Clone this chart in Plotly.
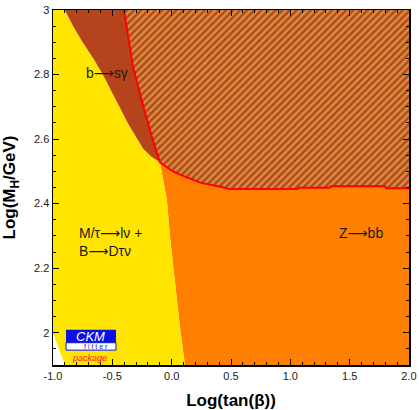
import plotly.graph_objects as go

# ---- data ----
X_RANGE = [-1.0, 2.0]
Y_RANGE = [1.9, 3.0]
X_TICKS = [-1.0, -0.5, 0.0, 0.5, 1.0, 1.5, 2.0]
X_TICK_TEXT = ["-1.0", "-0.5", "0.0", "0.5", "1.0", "1.5", "2.0"]
Y_TICKS = [2.0, 2.2, 2.4, 2.6, 2.8, 3.0]
Y_TICK_TEXT = ["2", "2.2", "2.4", "2.6", "2.8", "3"]

# yellow / orange boundary (bottom -> junction)
yo_x = [0.112, 0.075, 0.045, 0.015, -0.015, -0.04, -0.07, -0.099]
yo_y = [1.90, 2.00, 2.10, 2.20, 2.30, 2.41, 2.47, 2.528]

# yellow / brown boundary (junction -> top)
yb_x = [-0.099, -0.17, -0.24, -0.29, -0.37, -0.44, -0.51, -0.58, -0.66, -0.75, -0.83, -0.90]
yb_y = [2.528, 2.545, 2.57, 2.60, 2.65, 2.70, 2.75, 2.80, 2.85, 2.90, 2.95, 3.00]

# red b->s gamma limit (top -> junction -> right edge)
red_x = [-0.402, -0.326, -0.253, -0.17, -0.099, 0.0, 0.07, 0.24, 0.41, 0.49, 1.06, 1.07, 1.33, 1.34, 1.80, 1.81, 2.0]
red_y = [3.00, 2.824, 2.72, 2.61, 2.528, 2.502, 2.49, 2.465, 2.452, 2.445, 2.445, 2.449, 2.449, 2.454, 2.454, 2.448, 2.448]

# white excluded corner (top -> bottom)
wc_x = [-1.0, -0.95, -0.90]
wc_y = [2.00, 1.95, 1.90]

YELLOW = "#FFE500"
ORANGE = "#FF8000"
BROWN = "#B5441C"
FONT = "Arial, Liberation Sans, DejaVu Sans, sans-serif"

fig = go.Figure()

j = red_x.index(-0.099)

# orange region: right of yellow, below red line
ox = yo_x + red_x[j + 1:] + [2.0]
oy = yo_y + red_y[j + 1:] + [1.9]
fig.add_trace(go.Scatter(x=ox, y=oy, fill="toself", fillcolor=ORANGE, mode="none",
                         hoverinfo="skip", showlegend=False))

# yellow region
yx = [-1.0, -1.0] + yb_x[::-1] + yo_x[::-1][1:] + [wc_x[2], wc_x[1], wc_x[0]]
yy = [wc_y[0], 3.0] + yb_y[::-1] + yo_y[::-1][1:] + [wc_y[2], wc_y[1], wc_y[0]]
fig.add_trace(go.Scatter(x=yx, y=yy, fill="toself", fillcolor=YELLOW, mode="none",
                         hoverinfo="skip", showlegend=False))

# brown region between yellow boundary and red line
bx = yb_x + red_x[:j + 1]
by = yb_y + red_y[:j + 1]
fig.add_trace(go.Scatter(x=bx, y=by, fill="toself", fillcolor=BROWN, mode="none",
                         hoverinfo="skip", showlegend=False))

# hatched excluded region above the red line
hx = red_x + [2.0, red_x[0]]
hy = red_y + [3.0, 3.0]
fig.add_trace(go.Scatter(x=hx, y=hy, fill="toself", mode="none",
                         fillpattern=dict(shape="/", bgcolor="#B4481A", fgcolor="#FCD468",
                                          size=5, solidity=0.5),
                         hoverinfo="skip", showlegend=False))

# red limit line
fig.add_trace(go.Scatter(x=red_x, y=red_y, mode="lines", line=dict(color="#FF0000", width=2),
                         hoverinfo="skip", showlegend=False))

txt = dict(family=FONT, size=14, color="#1a1a1a")
fig.add_annotation(x=-0.545, y=2.804, text="b⟶sγ", showarrow=False, font=txt)
fig.add_annotation(x=-0.80, y=2.28, text="M/τ⟶lν +<br>B⟶Dτν", showarrow=False,
                   xanchor="left", align="left", font=txt)
fig.add_annotation(x=1.39, y=2.31, text="Z⟶bb", showarrow=False, xanchor="left", font=txt)

# CKMfitter logo
fig.add_shape(type="rect", x0=-0.89, x1=-0.469, y0=1.969, y1=2.009, xref="x", yref="y",
              fillcolor="#0A10E8", line=dict(width=0))
fig.add_shape(type="rect", x0=-0.89, x1=-0.469, y0=1.946, y1=1.969, xref="x", yref="y",
              fillcolor="white", line=dict(color="#0A10E8", width=1))
fig.add_annotation(x=-0.68, y=1.989, text="<i>CKM</i>", showarrow=False,
                   font=dict(family=FONT, size=13, color="white"))
fig.add_annotation(x=-0.638, y=1.958, text="f i t t e r", showarrow=False,
                   font=dict(family=FONT, size=7, color="#0A10E8"))
fig.add_annotation(x=-0.69, y=1.921, text="<i>package</i>", showarrow=False,
                   font=dict(family=FONT, size=9, color="#FF2020"))

axis_common = dict(showgrid=False, zeroline=False, ticks="inside", mirror="allticks",
                   showline=True, linecolor="black", linewidth=1.5, tickcolor="black",
                   automargin=False,
                   tickfont=dict(family=FONT, size=11, color="#222"))

fig.update_xaxes(range=X_RANGE, tickmode="array", tickvals=X_TICKS, ticktext=X_TICK_TEXT, ticklen=6,
                 minor=dict(ticks="inside", tick0=-1.0, dtick=0.1, ticklen=3, tickcolor="black"),
                 title=dict(text="<b>Log(tan(β))</b>",
                            font=dict(family=FONT, size=17, color="black")),
                 **axis_common)
fig.update_yaxes(range=Y_RANGE, tickmode="array", tickvals=Y_TICKS, ticktext=Y_TICK_TEXT, ticklen=6,
                 minor=dict(ticks="inside", tick0=2.0, dtick=0.05, ticklen=3, tickcolor="black"),
                 title=dict(text="<b>Log(M<sub>H</sub>/GeV)</b>",
                            font=dict(family=FONT, size=17, color="black")),
                 **axis_common)

fig.update_layout(width=419, height=410, margin=dict(l=53, r=10, t=10, b=45),
                  plot_bgcolor="white", paper_bgcolor="white")

# remove the page's default body margin so the 419x410 figure fills the window exactly
fig.write_html("out.html", config={"displayModeBar": False, "staticPlot": True},
               post_script="document.body.style.margin='0';document.body.style.overflow='hidden';")
